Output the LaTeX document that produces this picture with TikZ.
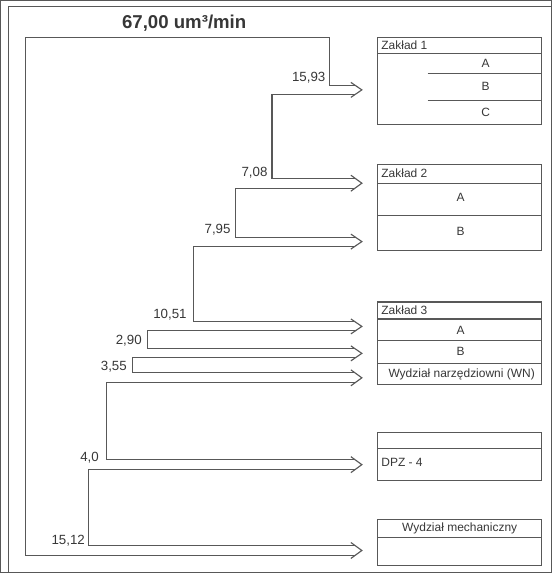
\documentclass[tikz,border=0pt]{standalone}
\usepackage{fontspec}
\setmainfont{Liberation Sans}
\definecolor{lc}{RGB}{88,88,88}
\definecolor{tc}{RGB}{55,55,55}
\begin{document}
\begin{tikzpicture}[x=0.75pt,y=-0.75pt,line width=0.85pt,
  every path/.style={draw=lc},
  lbl/.style={anchor=east,inner sep=0pt,text=tc,font=\fontsize{10}{12}\selectfont},
  boxtxt/.style={inner sep=0pt,text=tc,font=\fontsize{9}{11}\selectfont},
  boxhead/.style={boxtxt,anchor=west},
  ttl/.style={inner sep=0pt,text=tc,font=\fontsize{14}{16}\selectfont\bfseries}]
\useasboundingbox (0,0) rectangle (552,573);
% frame
\draw (8,573) -- (8,6) -- (552,6);
% title
\node[ttl] (title) at (184,23) {67,00 um³/min};
% outer flow line
\coordinate (o1) at (25,37);
\coordinate (o2) at (330,37);
\draw (355,85) -- (330,85) -- (o2) -- (o1) -- (25,556) -- (355,556);
% inner staircase lines
\draw (355,94) -- (272,94) -- (272,178) -- (355,178);
\draw (355,188) -- (235,188) -- (235,237) -- (355,237);
\draw (355,246) -- (193,246) -- (193,322) -- (355,322);
\draw (355,331) -- (147,331) -- (147,349) -- (355,349);
\draw (355,358) -- (132,358) -- (132,373) -- (355,373);
\draw (355,383) -- (106,383) -- (106,460) -- (355,460);
\draw (355,470) -- (88,470) -- (88,546) -- (355,546);
% arrow heads
\foreach \t/\b in {85/94,178/188,237/246,322/331,349/358,373/383,460/470,546/556}{
  \draw[line join=miter] (351,{\t-3}) -- (362,{(\t+\b)/2}) -- (351,{\b+3});
}
% labels
\node[lbl] (l1) at (326,77) {15,93};
\node[lbl] (l2) at (268,172) {7,08};
\node[lbl] (l3) at (231,230) {7,95};
\node[lbl] (l4) at (187,315) {10,51};
\node[lbl] (l5) at (142,341) {2,90};
\node[lbl] (l6) at (127,367) {3,55};
\node[lbl] (l7) at (99,458) {4,0};
\node[lbl] (l8) at (85,541) {15,12};
% Zaklad 1
\draw (378,37) rectangle (542,124);
\draw (378,53) -- (542,53);
\draw (428,73) -- (542,73);
\draw (428,100) -- (542,100);
\node[boxhead] (z1) at (381,45) {Zakład 1};
\node[boxtxt] (z1a) at (486,63) {A};
\node[boxtxt] (z1b) at (486,86) {B};
\node[boxtxt] (z1c) at (486,112) {C};
% Zaklad 2
\draw (378,164) rectangle (542,250);
\draw (378,183) -- (542,183);
\draw (378,215) -- (542,215);
\node[boxhead] (z2) at (381,173) {Zakład 2};
\node[boxtxt] (z2a) at (461,197) {A};
\node[boxtxt] (z2b) at (461,231) {B};
% Zaklad 3
\draw (378,302) rectangle (542,385);
\draw (378,319) -- (542,319);
\draw (378,341) -- (542,341);
\draw (378,364) -- (542,364);
\node[boxhead] (z3) at (381,310) {Zakład 3};
\node[boxtxt] (z3a) at (461,330) {A};
\node[boxtxt] (z3b) at (461,352) {B};
\node[boxtxt] (wn) at (462,375) {Wydział narzędziowni (WN)};
% DPZ
\draw (378,433) rectangle (542,481);
\draw (378,449) -- (542,449);
\node[boxhead] (dpz) at (381,463) {DPZ - 4};
% Wydzial mechaniczny
\draw (378,520) rectangle (542,566);
\draw (378,538) -- (542,538);
\node[boxtxt] (wm) at (460,529) {Wydział mechaniczny};
\end{tikzpicture}
\end{document}
